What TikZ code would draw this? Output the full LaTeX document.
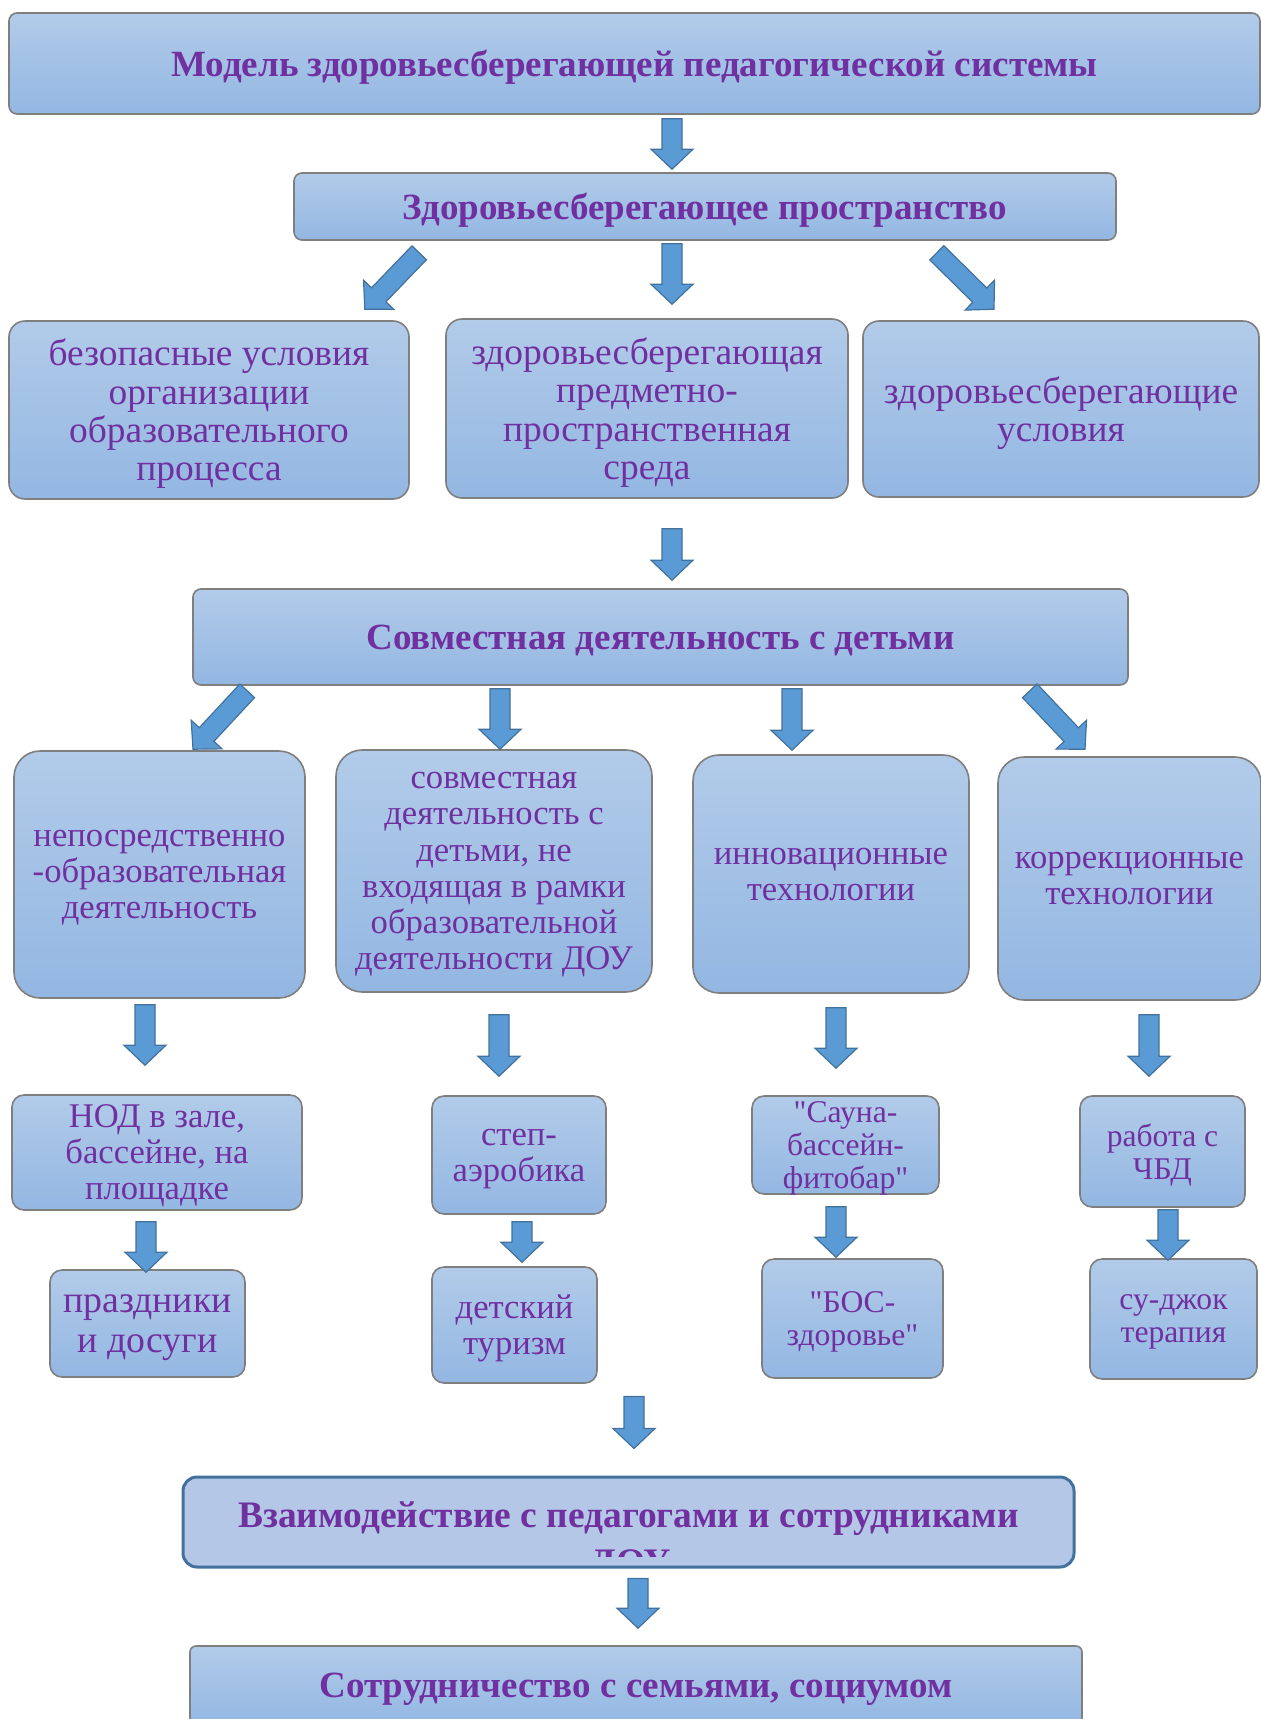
\documentclass[tikz,border=0pt]{standalone}
\usepackage{fontspec}
\setmainfont{Liberation Serif}[Ligatures=TeXOff]
\usetikzlibrary{calc}
\definecolor{boxtop}{HTML}{B2CBE9}
\definecolor{boxbot}{HTML}{93B7E2}
\definecolor{boxline}{HTML}{7F7F7F}
\definecolor{txtpurple}{HTML}{7030A0}
\definecolor{arrfill}{HTML}{5B9BD5}
\definecolor{arrline}{HTML}{41719C}
\definecolor{coopfill}{HTML}{B4C7E7}
\tikzset{
  gradbox/.style={draw=boxline,line width=.8pt,top color=boxtop,bottom color=boxbot,text=txtpurple,align=center,inner sep=0pt,text depth=0pt},
  hdrbox/.style={gradbox,rounded corners=4pt,font=\bfseries\fontsize{18.5}{22}\selectfont},
  bigbox/.style={gradbox,rounded corners=8pt,font=\fontsize{18.7}{19.2}\selectfont},
  midbox/.style={gradbox,rounded corners=13pt,text depth=-3pt,font=\fontsize{17.3}{18.1}\selectfont},
  smallbox/.style={gradbox,rounded corners=6pt,font=\fontsize{17.3}{18}\selectfont},
  tightbox/.style={smallbox,font=\fontsize{15.8}{16.5}\selectfont},
  coopbox/.style={draw=arrline,line width=1.5pt,fill=coopfill,rounded corners=7pt,inner sep=0pt},
  cooptext/.style={text=txtpurple,inner sep=0pt,anchor=base,font=\bfseries\fontsize{18.7}{22}\selectfont},
  blockarr/.style={draw=arrline,fill=arrfill,line width=.6pt,
    to path={($(\tikztostart)!5pt!90:(\tikztotarget)$)
      -- ($(\tikztotarget)!10pt!(\tikztostart)!5pt!90:(\tikztotarget)$)
      -- ($(\tikztotarget)!10pt!(\tikztostart)!10.5pt!90:(\tikztotarget)$)
      -- (\tikztotarget)
      -- ($(\tikztotarget)!10pt!(\tikztostart)!10.5pt!-90:(\tikztotarget)$)
      -- ($(\tikztotarget)!10pt!(\tikztostart)!5pt!-90:(\tikztotarget)$)
      -- ($(\tikztostart)!5pt!-90:(\tikztotarget)$) -- cycle}}
}
\begin{document}
\begin{tikzpicture}[x=.5pt,y=-.5pt]
  \path[use as bounding box,clip] (0,0) rectangle (1261,1719);

  \node[hdrbox,minimum width=625.5pt,minimum height=50.5pt] (model) at (634.5,63.5) {Модель здоровьесберегающей педагогической системы};
  \node[hdrbox,minimum width=411pt,minimum height=33.5pt] (space) at (705,206.5) {Здоровьесберегающее пространство};

  \node[bigbox,minimum width=200pt,minimum height=89pt] (safe) at (209,410) {безопасные условия\\организации\\образовательного\\процесса};
  \node[bigbox,minimum width=201pt,minimum height=89.5pt] (env) at (647,408.5) {здоровьесберегающая\\предметно-\\пространственная\\среда};
  \node[bigbox,minimum width=198pt,minimum height=88pt] (cond) at (1061,409) {здоровьесберегающие\\условия};

  \node[hdrbox,minimum width=467.5pt,minimum height=48pt] (joint) at (660.5,637) {Совместная деятельность с детьми};

  \node[midbox,minimum width=145.5pt,minimum height=123.5pt] (nod) at (159.5,874.5) {непосредственно\\-образовательная\\деятельность};
  \node[midbox,minimum width=158pt,minimum height=121pt] (free) at (494,871) {совместная\\деятельность с\\детьми, не\\входящая в рамки\\образовательной\\деятельности ДОУ};
  \node[midbox,minimum width=138pt,minimum height=119pt] (innov) at (831,874) {инновационные\\технологии};
  \node[midbox,minimum width=131.5pt,minimum height=121.5pt] (corr) at (1129.5,878.5) {коррекционные\\технологии};

  \node[smallbox,minimum width=145pt,minimum height=57.5pt] (hall) at (157,1152.5) {НОД в зале,\\бассейне, на\\площадке};
  \node[smallbox,minimum width=87pt,minimum height=59pt,text depth=-2pt] (step) at (519,1155) {степ-\\аэробика};
  \node[tightbox,minimum width=93.5pt,minimum height=49pt] (sauna) at (845.5,1145) {"Сауна-\\бассейн-\\фитобар"};
  \node[tightbox,minimum width=82.5pt,minimum height=55.5pt] (cbd) at (1162.5,1151.5) {работа с\\ЧБД};

  \node[smallbox,minimum width=97.5pt,minimum height=53.5pt,text depth=-2pt,font=\fontsize{18.9}{19.7}\selectfont] (fest) at (147.5,1323.5) {праздники\\и досуги};
  \node[smallbox,minimum width=82.5pt,minimum height=58pt] (tour) at (514.5,1325) {детский\\туризм};
  \node[tightbox,minimum width=90.5pt,minimum height=59.5pt] (bos) at (852.5,1318.5) {"БОС-\\здоровье"};
  \node[tightbox,minimum width=83.5pt,minimum height=60pt,text depth=-2pt] (sujok) at (1173.5,1319) {су-джок\\терапия};

  \node[coopbox,minimum width=445.5pt,minimum height=45pt] (coop) at (628.5,1522) {};
  \begin{scope}
    \clip (183,1480) rectangle (1074,1556);
    \node[cooptext] (coopline) at (628.5,1527) {Взаимодействие с педагогами и сотрудниками};
    \node[cooptext] (dou) at (631,1574) {ДОУ};
  \end{scope}
  \node[hdrbox,rounded corners=3pt,minimum width=446pt,minimum height=39pt] (family) at (636,1685) {Сотрудничество с семьями, социумом};

  % arrows
  \draw[blockarr] ($(model.south)+(37.5,4)$) to ($(space.north)+(-33,-3)$);
  \draw[blockarr] ($(space.south west)+(126,12)$) to ($(safe.north east)+(-45,-11)$);
  \draw[blockarr] ($(space.south)+(-33,3)$) to ($(env.north)+(25,-14)$);
  \draw[blockarr] ($(space.south east)+(-180,12)$) to ($(cond.north)+(-67,-11)$);
  \draw[blockarr] ($(env.south)+(25,30)$) to ($(joint.north)+(11.5,-8)$);
  \draw[blockarr] ($(joint.south west)+(55,5)$) to ($(nod.north)+(33.5,-1)$);
  \draw[blockarr] ($(joint.south)+(-160.5,3)$) to ($(free.north)+(6,0)$);
  \draw[blockarr] ($(joint.south)+(131.5,3)$) to ($(innov.north)+(-39,-4)$);
  \draw[blockarr] ($(joint.south east)+(-99,5)$) to ($(corr.north)+(-44.5,-7)$);
  \draw[blockarr] ($(nod.south)+(-14.5,6)$) to ($(hall.north)+(-12,-29)$);
  \draw[blockarr] ($(free.south)+(5,22)$) to ($(step.north)+(-20,-19)$);
  \draw[blockarr] ($(innov.south)+(5,14)$) to ($(sauna.north)+(-9.5,-27)$);
  \draw[blockarr] ($(corr.south)+(19.5,14)$) to ($(cbd.north)+(-13.5,-19)$);
  \draw[blockarr] ($(hall.south)+(-11,11)$) to ($(fest.north)+(-1.5,3)$);
  \draw[blockarr] ($(step.south)+(3,7)$) to ($(tour.north)+(7.5,-4)$);
  \draw[blockarr] ($(sauna.south)+(-9.5,12)$) to ($(bos.north)+(-16.5,-1)$);
  \draw[blockarr] ($(cbd.south)+(5.5,2)$) to ($(sujok.north)+(-5.5,2)$);
  \draw[blockarr] ($(coop.north)+(5.5,-79)$) to ($(coop.north)+(5.5,-27)$);
  \draw[blockarr] ($(coop.south)+(9.5,10)$) to ($(family.north)+(2,-17)$);
\end{tikzpicture}
\end{document}
